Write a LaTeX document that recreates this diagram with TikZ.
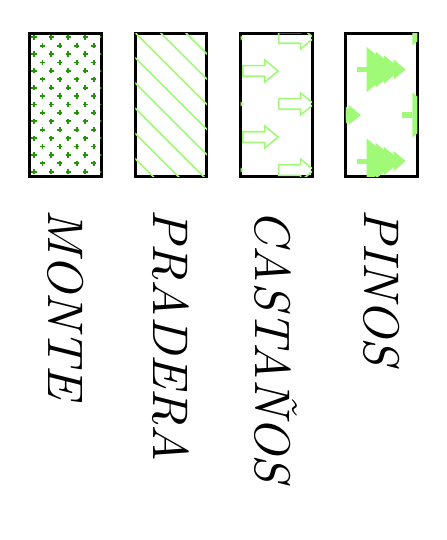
\documentclass[tikz,border=0pt]{standalone}
\usepackage{tikz}
\usetikzlibrary{calc}
\definecolor{verdeoscuro}{RGB}{35,150,5}
\definecolor{verdeclaro}{RGB}{160,250,120}

\tikzset{
  marco/.style={draw=black,line width=1.5pt,minimum width=35.75pt,
                minimum height=71.25pt,inner sep=0pt,outer sep=0pt},
  rotulo/.style={rotate=-90,anchor=west,inner sep=0pt,scale=2.5,
                 font=\fontsize{10}{12}\selectfont\itshape},
  cruz/.style={draw=verdeoscuro,line width=0.9pt},
  raya/.style={draw=verdeclaro,line width=0.8pt},
  flecha/.style={draw=verdeclaro,line width=0.8pt,line join=miter},
  pino/.style={fill=verdeclaro}
}

\begin{document}
\begin{tikzpicture}[x=0.5pt,y=-0.5pt]
  \useasboundingbox (0,0) rectangle (446,540);

  % cajas de la leyenda
  \node[marco] (monte)    at (65.7,105)  {};
  \node[marco] (pradera)  at (171,105)   {};
  \node[marco] (castanos) at (276.3,105) {};
  \node[marco] (pinos)    at (381.6,105) {};

  % monte: cruces
  \begin{scope}
    \clip (monte.south west) rectangle (monte.north east);
    \foreach \j in {0,...,16}
      \foreach \i in {0,...,4}
        \path[cruz] ({34+17.1*\i+8.55*mod(\j,2)},{37.3+8.4*\j})
          +(-2.6,0) -- +(2.6,0) +(0,-2.6) -- +(0,2.6);
  \end{scope}

  % pradera: rayas
  \begin{scope}
    \clip (pradera.south west) rectangle (pradera.north east);
    \foreach \k in {0,...,7}
      \draw[raya] ({173-25.2*\k},20) -- ({353-25.2*\k},200);
  \end{scope}

  % castanos: flechas
  \begin{scope}
    \clip (castanos.south west) rectangle (castanos.north east);
    \foreach \ax/\ay in {207/38,278.6/38,207/104,278.6/104,207/170,
                         278.6/170,242.8/71,242.8/137}
      \draw[flecha] (\ax,\ay) ++(0,-5.3) -- ++(22,0) -- ++(0,-5.7)
        -- ++(13.3,11) -- ++(-13.3,11) -- ++(0,-5.7) -- ++(-22,0) -- cycle;
  \end{scope}

  % pinos: arboles
  \begin{scope}
    \clip (pinos.south west) rectangle (pinos.north east);
    \foreach \px/\py in {356.7/69.5,356.7/161,311.7/115,402.4/115,
                         402.4/23,311.7/23}
    {
      \fill[pino] (\px,{\py-2.5}) rectangle ({\px+10},{\py+2.5});
      \foreach \b/\h in {0/22.5,9/18,17.5/14,27/10}
        \fill[pino] ({\px+10+\b},{\py-\h}) -- ++({1.2*\h},\h)
          -- ({\px+10+\b},{\py+\h}) -- cycle;
    }
  \end{scope}

  % rotulos
  \node[rotulo] (lmonte)    at ($(monte.south)+(0,32)$)    {MONTE};
  \node[rotulo] (lpradera)  at ($(pradera.south)+(0,32)$)  {PRADERA};
  \node[rotulo] (lcastanos) at ($(castanos.south)+(0,32)$) {CASTA\~NOS};
  \node[rotulo] (lpinos)    at ($(pinos.south)+(0,32)$)    {PINOS};
\end{tikzpicture}
\end{document}
